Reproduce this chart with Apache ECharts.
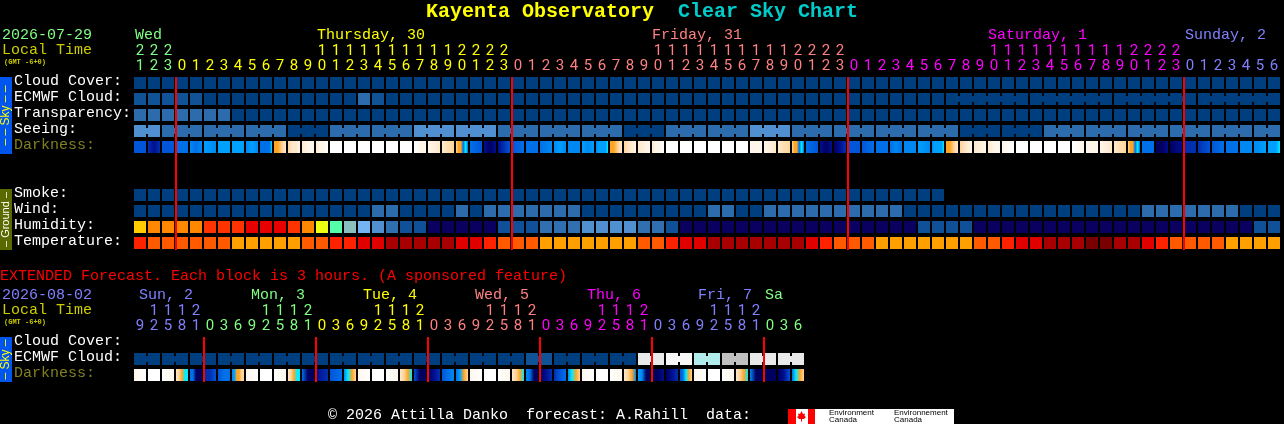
<!DOCTYPE html>
<html><head><meta charset="utf-8">
<style>html,body{margin:0;padding:0;background:#000}#c{width:1284px;height:424px}</style>
<script src="https://cdn.jsdelivr.net/npm/echarts@6/dist/echarts.min.js"></script>
</head><body><div id="c"></div>
<script>
// ---------- data ----------
var mainHours=[21,22,23,0,1,2,3,4,5,6,7,8,9,10,11,12,13,14,15,16,17,18,19,20,21,22,23,0,1,2,3,4,5,6,7,8,9,10,11,12,13,14,15,16,17,18,19,20,21,22,23,0,1,2,3,4,5,6,7,8,9,10,11,12,13,14,15,16,17,18,19,20,21,22,23,0,1,2,3,4,5,6];
var mainHourDay=[0,0,0,1,1,1,1,1,1,1,1,1,1,1,1,1,1,1,1,1,1,1,1,1,1,1,1,3,3,3,3,3,3,3,3,3,3,3,3,3,3,3,3,3,3,3,3,3,3,3,3,2,2,2,2,2,2,2,2,2,2,2,2,2,2,2,2,2,2,2,2,2,2,2,2,4,4,4,4,4,4,4];
var extHours=[9,12,15,18,21,0,3,6,9,12,15,18,21,0,3,6,9,12,15,18,21,0,3,6,9,12,15,18,21,0,3,6,9,12,15,18,21,0,3,6,9,12,15,18,21,0,3,6];
var extHourDay=[4,4,4,4,4,0,0,0,0,0,0,0,0,1,1,1,1,1,1,1,1,3,3,3,3,3,3,3,3,2,2,2,2,2,2,2,2,4,4,4,4,4,4,4,4,0,0,0];
var mainRows=['Cloud Cover:','ECMWF Cloud:','Transparency:','Seeing:','Darkness:','','','Smoke:','Wind:','Humidity:','Temperature:'];
var extRows=['Cloud Cover:','ECMWF Cloud:','Darkness:'];
var mainDays=['Wed','Thursday, 30','Friday, 31','Saturday, 1','Sunday, 2'];
var extDays=['Sun, 2','Mon, 3','Tue, 4','Wed, 5','Thu, 6','Fri, 7','Sa'];
var cloudCover=[0,0,0,0,0,0,0,0,0,0,0,0,0,0,0,0,0,0,0,0,0,0,0,0,0,0,0,0,0,0,0,0,0,0,0,0,0,0,0,0,0,0,0,0,0,0,0,0,0,0,0,0,0,0,0,0,0,0,0,0,0,0,0,0,0,0,0,0,0,0,0,0,0,0,0,0,0,0,0,0,0,0];
var ecmwf=[1,1,1,1,1,0,0,0,0,0, 0,0,0,0,0,0,2,1,0,0, 0,0,0,0,0,0,0,0,0,0, 0,0,0,0,0,0,0,0,0,0, 0,0,0,0,0,0,0,0,0,0, 0,0,0,0,0,0,0,0,0,0, 0,0,0,0,0,0,0,0,0,0, 0,0,0,0,0,0,0,0,0,0,0,0];
var ecmwfJoined=[[58,63],[64,69],[70,75],[76,81]];
var transparency=[2,2,2,2,2,2,2,0,0,0, 0,0,0,0,0,0,0,0,0,0, 0,0,0,0,0,0,0,0,0,0, 0,0,0,0,0,0,0,0,0,0, 0,0,0,0,0,0,0,0,0,0, 0,0,0,0,0,0,0,0,0,0, 0,0,0,0,0,0,0,0,0,0, 0,0,0,0,0,0,0,0,0,0,0,0];
var seeing=[3,3,2,2,2,2,2,2,2,2, 2,0,0,0,2,2,2,2,2,2, 3,3,3,3,3,3,2,2,2,2, 2,2,2,2,2,0,0,0,2,2, 2,2,2,2,3,3,3,2,2,2, 2,2,2,2,2,2,2,2,2,0, 0,0,0,0,0,2,2,2,2,2, 2,2,2,2,2,2,2,2,2,2,2,2];
var seeingJoined=[[0,1],[2,4],[5,7],[8,10],[11,13],[14,16],[17,19],[20,22],[23,25],[26,28],[29,31],[32,34],[35,37],[38,40],[41,43],[44,46],[47,49],[50,52],[53,55],[56,58],[59,61],[62,64],[65,67],[68,70],[71,73],[74,76],[77,79],[80,81]];
var smoke=[0,0,0,0,0,0,0,0,0,0, 0,0,0,0,0,0,0,0,0,0, 0,0,0,0,0,0,0,0,0,0, 0,0,0,0,0,0,0,0,0,0, 0,0,0,0,0,0,0,0,0,0, 0,0,0,0,0,0,0,0];
var wind=[0,0,0,0,0,0,0,0,0,0, 0,0,0,0,0,0,0,2,2,0, 0,0,0,2,0,2,2,2,2,2, 2,2,0,0,0,0,0,0,0,0, 0,2,2,0,0,2,2,2,2,2, 2,2,2,2,2,0,0,0,0,0, 0,0,0,0,0,0,0,0,0,0, 0,0,2,2,2,2,2,2,2,0,0,0];
var humidity=[8,9,9,9,9,10,10,10,11,11, 11,10,9,7,6,5,4,3,2,1, 1,0,0,0,0,0,1,1,1,2, 2,2,3,3,3,3,2,2,1,0, 0,0,0,0,0,0,0,0,0,0, 0,0,0,0,0,0,1,1,1,1, 0,0,0,0,0,0,0,0,0,0, 0,0,0,0,0,0,0,0,0,0,1,1];
var temperature=[3,4,4,4,4,4,4,5,5,5, 5,5,4,4,3,3,2,2,1,1, 1,1,1,2,2,3,4,4,4,5, 5,5,5,5,5,5,4,4,3,2, 2,1,1,1,1,1,1,1,2,3, 4,4,4,5,5,5,5,5,5,5, 4,4,3,2,2,1,1,1,0,0, 1,1,2,3,4,4,4,4,5,5,5,5];
var darkness=[[9,9],[10,11,10],[9,9],[8,8],[7,8,7],[6,7],[6,6],[6,6],[7,6,7],[8,8,8,8,8,8,5],
[4,4,3,2],[3,2,2,1],[2,1,1],[2,1,1,0],[0,0],[0,0],[0,0],[0,0],[0,0],[0,0],
[0,1,1],[1,2],[2,3],[3,4,4,8,5,8],[8,9],[11,12,11],[11,10,9],[9,8],[8,8],[8,7],
[7,6,7],[7,7],[6,7,6],[7,6,6,6,6,5],[4,4,3,2],[3,2,1],[2,1],[2,1,1,0],[0,0],[0,0],
[0,0],[0,0],[0,0],[0,0],[1,1],[1,2],[2,3],[3,4,4,8,5,8],[8,9],[11,12,11],
[12,11,10],[9,9],[9,8],[8,8],[8,7,8],[7,7],[6,7],[7,6,6,6,6,5],[4,4,3,2],[3,2,1],
[2,1],[2,1,1],[1,0],[0,0],[0,0],[0,0],[0,0],[0,1],[1,1],[1,2],
[2,3],[3,4,4,8,5,8],[8,8],[12,12,11],[12,11],[10,10],[10,9],[9,8],[8,8],[7,7],
[7,6],[6,6,6,5]];
var extEcmwf=[0,0,0,0,0,0,0,0,0,0, 0,0,0,0,0,0,0,0,0,0, 0,0,0,0,0,0,0,0,1,1, 0,0,0,0,0,0,4,4,5,5, 6,6,7,7,4,4,4,4];
var extEcmwfJoined=[[0,1],[2,3],[4,5],[6,7],[8,9],[10,11],[12,13],[14,15],[16,17],[18,19],[20,21],[22,23],[24,25],[26,27],[28,29],[30,31],[32,33],[34,35],[36,37],[38,39],[40,41],[42,43],[44,45],[46,47]];
var extDarkness=[[1,0],[0,0],[0,1],[2,3,4,5,5],[8,8,12,12,12],[10,10,9],[9,8,8],[7,6,4,4,3,3],
[1,0],[0,0],[0,1],[2,3,4,5,5],[8,12,12],[11,10],[9,8],[7,5,4,3],
[1,0],[0,0],[0,1],[2,3,4,5],[9,12,12],[12,11,10],[9,8,7],[8,6,4,3],
[1,0],[0,0],[0,1],[2,3,4,5],[7,8,12,12],[12,11,10],[10,9,8],[7,5,4,3],
[1,0],[0,0],[0,1],[2,3,4,7],[6,7,12,12],[12,12,11],[12,11,10],[9,8,5,4,3],
[1,0],[0,0],[0,1],[2,3,4,5],[7,12,12],[12,12],[12,11,9],[8,5,4,3]];
var mainMidnights=[3,27,51,75];
var extMidnights=[5,13,21,29,37,45];

// ---------- styles ----------
var mono='"Liberation Mono","DejaVu Sans Mono",monospace';
var digitFont='Roboto,"Liberation Sans",sans-serif';
var dayColors=['#80ff80','#ffff00','#ff00ff','#ff8080','#8080ff'];
var skyPal=['#003f7f','#0f5296','#2c6cac','#5090d0','#629ee0'];
var extPal=['#003f7f','#0f5296','#2c6cac','#5090d0','#e9e9e9','#f7f7f7','#b0ecec','#c0c0c0'];
var humPal=['#0a0060','#105098','#3070b0','#5090d0','#74b4f4','#88c0c0','#55ffaa','#eeff11','#ffcc00','#ff8800','#ff3300','#e60000'];
var tempPal=['#7a0000','#a80000','#e00000','#ff2200','#ff5a00','#ffa000'];
var darkPal=['#ffffff','#fff6ea','#ffe8cc','#ffd59a','#ffa526','#00eeff','#00a0ff','#0088f0','#0070e8','#0055d8','#0030b0','#000e90','#000060'];

// ---------- helpers ----------
function hourLabel(h,d){var s=String(h);return{value:(s.length>1?s[0]:' ')+'\n'+s[s.length-1],textStyle:{color:dayColors[d]}};}
function cells(values,row,pal,joined,gi){
  var out=[];
  values.forEach(function(v,i){
    var j=0;(joined||[]).forEach(function(g){if(i>=g[0]&&i<g[1])j=1;});
    out.push({value:[i,row,v,j],itemStyle:{color:pal[v]}});
  });
  return cellSeries(out,gi);
}
function cellSeries(data,gi){
  return{type:'custom',xAxisIndex:gi,yAxisIndex:gi,silent:true,animation:false,encode:{x:0,y:1},data:data,
    renderItem:function(p,api){
      var c=api.coord([api.value(0),api.value(1)]);
      var col=api.visual('color');
      var kids=[{type:'rect',shape:{x:c[0]-6,y:c[1]-6,width:12,height:12},style:{fill:col}}];
      if(api.value(3))kids.push({type:'rect',shape:{x:c[0]+6,y:c[1]-3,width:2,height:6},style:{fill:col}});
      return{type:'group',children:kids};
    }};
}
function gradientSeries(lists,row,gi){
  return{type:'custom',xAxisIndex:gi,yAxisIndex:gi,silent:true,animation:false,encode:{x:0,y:1},
    data:lists.map(function(l,i){return[i,row];}),
    renderItem:function(p,api){
      var c=api.coord([api.value(0),api.value(1)]);
      var l=lists[p.dataIndex];
      var stops=l.map(function(v,k){return{offset:k/(l.length-1),color:darkPal[v]};});
      return{type:'rect',shape:{x:c[0]-6,y:c[1]-6,width:12,height:12},
        style:{fill:new echarts.graphic.LinearGradient(0,0,1,0,stops)}};
    }};
}
function redLines(cols,lastRow,gi){
  return{type:'custom',xAxisIndex:gi,yAxisIndex:gi,silent:true,animation:false,z:5,encode:{x:0,y:1},
    data:cols.map(function(c){return[c,0];}),
    renderItem:function(p,api){
      var a=api.coord([api.value(0),0]),b=api.coord([api.value(0),lastRow]);
      return{type:'rect',shape:{x:a[0]-7,y:a[1]-6,width:2,height:b[1]-a[1]+13},style:{fill:'#ff0000'}};
    }};
}
function axisPair(hours,hourDay,rows,gi){
  return{
    x:{type:'category',gridIndex:gi,position:'top',data:hours.map(function(h,i){return hourLabel(h,hourDay[i]);}),
      axisLine:{show:false},axisTick:{show:false},splitLine:{show:false},
      axisLabel:{interval:0,margin:1,fontFamily:digitFont,fontSize:15,lineHeight:15,hideOverlap:false}},
    y:{type:'category',gridIndex:gi,inverse:true,data:rows.map(function(r){
        return{value:r,textStyle:{align:'left',verticalAlign:'bottom',lineHeight:4,color:r==='Darkness:'?'#808020':'#ffffff'}};}),
      axisLine:{show:false},axisTick:{show:false},splitLine:{show:false},
      axisLabel:{interval:0,align:'left',verticalAlign:'bottom',lineHeight:4,margin:119,fontFamily:mono,fontSize:15}}
  };
}
function txt(x,y,s,color,size,extra){
  var st={text:s,fill:color,font:(extra&&extra.weight||'normal')+' '+size+'px '+mono,textVerticalAlign:'middle'};
  return{type:'text',x:x,y:y,style:st,silent:true};
}
function vtxt(cx,cy,s,color,size){
  return{type:'text',x:cx,y:cy,rotation:Math.PI/2,style:{text:s,fill:color,font:size+'px "Liberation Sans",sans-serif',textAlign:'center',textVerticalAlign:'middle'},silent:true};
}
function rect(x,y,w,h,c,z){return{type:'rect',z:z||0,shape:{x:x,y:y,width:w,height:h},style:{fill:c},silent:true};}

// ---------- chart ----------
var chart=echarts.init(document.getElementById('c'),null,{renderer:'canvas',width:1284,height:424});
var A=axisPair(mainHours,mainHourDay,mainRows,0),B=axisPair(extHours,extHourDay,extRows,1);
var mainDayX=[135,317,652,988,1185], mainDayC=[0,1,3,2,4];
var extDayX=[139,251,363,475,587,698,765], extDayC=[4,0,1,3,2,4,0];
var gfx=[
  txt(426,12,'Kayenta Observatory','#ffff00',20,{weight:'bold'}),
  txt(678,12,'Clear Sky Chart','#00cccc',20,{weight:'bold'}),
  txt(2,35,'2026-07-29','#80ff80',15),
  txt(2,50,'Local Time','#cccc00',15),
  txt(4,62,'(GMT -6+0)','#cccc00',7,{weight:'bold'}),
  txt(0,276,'EXTENDED Forecast. Each block is 3 hours. (A sponsored feature)','#ff0000',15),
  txt(2,295,'2026-08-02','#8080ff',15),
  txt(2,310,'Local Time','#cccc00',15),
  txt(4,322,'(GMT -6+0)','#cccc00',7,{weight:'bold'}),
  txt(328,415,'\u00a9 2026 Attilla Danko  forecast: A.Rahill  data:','#ffffff',15),
  rect(0,77,12,77,'#0055ee'),vtxt(6,115.5,'\u2013 \u2013 Sky \u2013 \u2013','#ffff00',12),
  rect(0,189,12,61,'#5a6a00'),vtxt(6,219.5,'\u2013 Ground \u2013','#ffffff',11),
  rect(0,337,12,45,'#0055ee'),vtxt(6,359.5,'\u2013 Sky \u2013','#ffff00',12),
  rect(796,409,158,15,'#ffffff'),rect(788,409,8,15,'#ff0000'),rect(808,409,7,15,'#ff0000'),
  {type:'polygon',silent:true,shape:{points:[[801.5,411],[803,414],[805,413.5],[804.5,416],[806,417],[804,419],[802,419],[802,421.5],[801,421.5],[801,419],[799,419],[797,417],[798.5,416],[798,413.5],[800,414]]},style:{fill:'#ff0000'}},
  {type:'text',x:829,y:409,silent:true,style:{text:'Environment\nCanada',fill:'#000',font:'8px "Liberation Sans",sans-serif',lineHeight:7}},
  {type:'text',x:894,y:409,silent:true,style:{text:'Environnement\nCanada',fill:'#000',font:'8px "Liberation Sans",sans-serif',lineHeight:7}}
];
mainDays.forEach(function(d,i){gfx.push(txt(mainDayX[i],35,d,dayColors[mainDayC[i]],15));});
extDays.forEach(function(d,i){gfx.push(txt(extDayX[i],295,d,dayColors[extDayC[i]],15));});

chart.setOption({
  backgroundColor:'#000',animation:false,
  grid:[{left:133,top:75,width:1148,height:176,containLabel:false,outerBoundsMode:'none'},{left:133,top:335,width:672,height:48,containLabel:false,outerBoundsMode:'none'}],
  xAxis:[A.x,B.x],yAxis:[A.y,B.y],
  graphic:{elements:gfx},
  series:[
    cells(cloudCover,0,skyPal,null,0),
    cells(ecmwf,1,skyPal,ecmwfJoined,0),
    cells(transparency,2,skyPal,null,0),
    cells(seeing,3,skyPal,seeingJoined,0),
    gradientSeries(darkness,4,0),
    cells(smoke,7,skyPal,null,0),
    cells(wind,8,skyPal,null,0),
    cells(humidity,9,humPal,null,0),
    cells(temperature,10,tempPal,null,0),
    redLines(mainMidnights,10,0),
    cells(extEcmwf,1,extPal,extEcmwfJoined,1),
    gradientSeries(extDarkness,2,1),
    redLines(extMidnights,2,1)
  ]
});
</script></body></html>
